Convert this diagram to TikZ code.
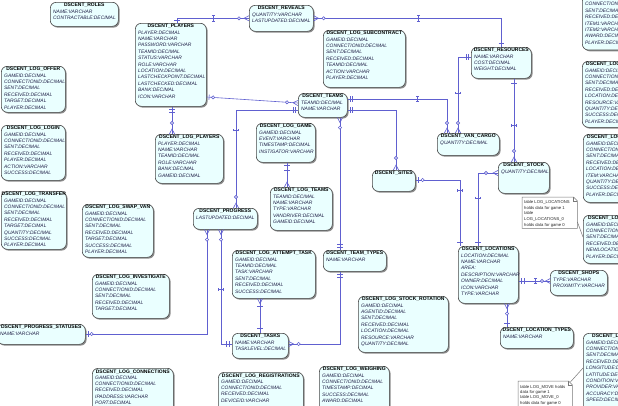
\documentclass[tikz,border=0pt]{standalone}
\usepackage{fontspec}
\setmainfont{Liberation Sans}
\usetikzlibrary{calc,shadows,decorations.markings}
\definecolor{linec}{RGB}{96,96,208}
\definecolor{boxfill}{RGB}{234,255,255}
\definecolor{boxline}{RGB}{70,70,70}
\definecolor{rowc}{RGB}{30,30,70}
\definecolor{notec}{RGB}{120,120,120}

\newcommand\mkBar{\draw[linec,line width=.6pt] (0,-2.6pt)--(0,2.6pt);}
\newcommand\mkCirc{\draw[linec,line width=.6pt,fill=white] (0,0) circle (1.6pt);}
\newcommand\mkCrowS{\draw[linec,line width=.6pt] (-5pt,2.6pt)--(0,0)--(-5pt,-2.6pt);}
\newcommand\mkCrowE{\draw[linec,line width=.6pt] (5pt,2.6pt)--(0,0)--(5pt,-2.6pt);}
\newcommand\mkI{\draw[linec,line width=.6pt] (0,-2.6pt)--(0,2.6pt) (-1.2pt,2.6pt)--(1.2pt,2.6pt) (-1.2pt,-2.6pt)--(1.2pt,-2.6pt);}

\tikzset{
 ebox/.style={draw=boxline, line width=.6pt, fill=boxfill, rounded corners=6pt, anchor=north west, inner sep=0pt,
   drop shadow={shadow xshift=1.3pt,shadow yshift=-1.3pt,fill=black!45,opacity=1}},
 ehead/.style={anchor=north, inner sep=0pt, font=\fontsize{5}{6}\selectfont\bfseries, text=black},
 rhead/.style={anchor=north west, inner sep=0pt, font=\fontsize{5}{6}\selectfont\bfseries, text=black},
 erows/.style={anchor=north west, inner sep=0pt, align=left, font=\fontsize{4.9}{6.4}\selectfont\itshape, text=rowc},
 rel/.style={draw=linec, line width=.6pt},
 mk/.style 2 args={postaction={decorate,decoration={markings,mark=at position #1 with {#2}}}},
 notebox/.style={anchor=north west, inner sep=0pt},
 notetext/.style={anchor=north west, inner sep=0pt, align=left, font=\fontsize{4.2}{#1}\selectfont, text=black!85},
 noteline/.style={draw=notec, line width=.5pt},
}

% name, x, y, w, h, header, rows
\newcommand\entbox[7]{%
  \node[ebox, minimum width=#4pt, minimum height=#5pt] (#1) at (#2,#3) {};
  \node[ehead] (#1-h) at ($(#1.north)+(0,1.3)$) {#6};
  \node[erows] (#1-r) at ($(#1.north west)+(3,7.5)$) {#7};
}
% name, x, y, w, h, header offset, header, rows
\newcommand\rentbox[8]{%
  \node[ebox, minimum width=#4pt, minimum height=#5pt] (#1) at (#2,#3) {};
  \node[rhead] (#1-h) at ($(#1.north west)+(#6,1.3)$) {#7};
  \node[erows] (#1-r) at ($(#1.north west)+(3,7.5)$) {#8};
}

\begin{document}
\begin{tikzpicture}[x=1pt,y=-1pt]
\useasboundingbox (0,0) rectangle (618,405);
\fill[white] (0,0) rectangle (618,405);
\clip (0,0) rectangle (618,405);

\entbox{roles}{50}{2}{68}{24}{DSCENT\_ROLES}{NAME:VARCHAR\\CONTRACTABLE:DECIMAL}
\entbox{players}{135}{23}{71}{83}{DSCENT\_PLAYERS}{PLAYER:DECIMAL\\NAME:VARCHAR\\PASSWORD:VARCHAR\\TEAMID:DECIMAL\\STATUS:VARCHAR\\ROLE:VARCHAR\\LOCATION:DECIMAL\\LASTCHECKPOINT:DECIMAL\\LASTCHECKED:DECIMAL\\BANK:DECIMAL\\ICON:VARCHAR}
\entbox{reveals}{249}{5}{64}{26}{DSCENT\_REVEALS}{QUANTITY:VARCHAR\\LASTUPDATED:DECIMAL}
\entbox{logsub}{323}{30}{82}{57}{DSCENT\_LOG\_SUBCONTRACT}{GAMEID:DECIMAL\\CONNECTIONID:DECIMAL\\SENT:DECIMAL\\RECEIVED:DECIMAL\\TEAMID:DECIMAL\\ACTION:VARCHAR\\PLAYER:DECIMAL}
\entbox{teams}{298}{93}{49}{24}{DSCENT\_TEAMS}{TEAMID:DECIMAL\\NAME:VARCHAR}
\entbox{resources}{471}{47}{60}{31}{DSCENT\_RESOURCES}{NAME:VARCHAR\\COST:DECIMAL\\WEIGHT:DECIMAL}
\entbox{vancargo}{437}{133}{62}{22}{DSCENT\_VAN\_CARGO}{QUANTITY:DECIMAL}
\entbox{stock}{498}{162}{51}{31}{DSCENT\_STOCK}{QUANTITY:DECIMAL}
\entbox{sites}{372}{170}{43}{21}{DSCENT\_SITES}{}
\entbox{logoffer}{1}{66}{64}{46}{DSCENT\_LOG\_OFFER}{GAMEID:DECIMAL\\CONNECTIONID:DECIMAL\\SENT:DECIMAL\\RECEIVED:DECIMAL\\TARGET:DECIMAL\\PLAYER:DECIMAL}
\entbox{loglogin}{1}{125}{64}{55}{DSCENT\_LOG\_LOGIN}{GAMEID:DECIMAL\\CONNECTIONID:DECIMAL\\SENT:DECIMAL\\RECEIVED:DECIMAL\\PLAYER:DECIMAL\\ACTION:VARCHAR\\SUCCESS:DECIMAL}
\entbox{logtransfer}{1}{191}{65}{58}{DSCENT\_LOG\_TRANSFER}{GAMEID:DECIMAL\\CONNECTIONID:DECIMAL\\SENT:DECIMAL\\RECEIVED:DECIMAL\\TARGET:DECIMAL\\QUANTITY:DECIMAL\\SUCCESS:DECIMAL\\PLAYER:DECIMAL}
\entbox{logswapvan}{82}{204}{71}{53}{DSCENT\_LOG\_SWAP\_VAN}{GAMEID:DECIMAL\\CONNECTIONID:DECIMAL\\SENT:DECIMAL\\RECEIVED:DECIMAL\\TARGET:DECIMAL\\SUCCESS:DECIMAL\\PLAYER:DECIMAL}
\entbox{loginvest}{92}{274}{77}{44}{DSCENT\_LOG\_INVESTIGATE}{GAMEID:DECIMAL\\CONNECTIONID:DECIMAL\\SENT:DECIMAL\\RECEIVED:DECIMAL\\TARGET:DECIMAL}
\entbox{statuses}{-3}{324}{88}{20}{DSCENT\_PROGRESS\_STATUSES}{NAME:VARCHAR}
\entbox{logconn}{92}{368}{81}{50}{DSCENT\_LOG\_CONNECTIONS}{GAMEID:DECIMAL\\CONNECTIONID:DECIMAL\\RECEIVED:DECIMAL\\IPADDRESS:VARCHAR\\PORT:DECIMAL}
\entbox{logplayers}{155}{134}{68}{49}{DSCENT\_LOG\_PLAYERS}{PLAYER:DECIMAL\\NAME:VARCHAR\\TEAMID:DECIMAL\\ROLE:VARCHAR\\BANK:DECIMAL\\GAMEID:DECIMAL}
\entbox{loggame}{256}{123}{59}{39}{DSCENT\_LOG\_GAME}{GAMEID:DECIMAL\\EVENT:VARCHAR\\TIMESTAMP:DECIMAL\\INSTIGATOR:VARCHAR}
\entbox{logteams}{270}{187}{62}{43}{DSCENT\_LOG\_TEAMS}{TEAMID:DECIMAL\\NAME:VARCHAR\\TYPE:VARCHAR\\VANDRIVER:DECIMAL\\GAMEID:DECIMAL}
\entbox{progress}{193}{208}{64}{21}{DSCENT\_PROGRESS}{LASTUPDATED:DECIMAL}
\entbox{logattempt}{232}{250}{83}{48}{DSCENT\_LOG\_ATTEMPT\_TASK}{GAMEID:DECIMAL\\TEAMID:DECIMAL\\TASK:VARCHAR\\SENT:DECIMAL\\RECEIVED:DECIMAL\\SUCCESS:DECIMAL}
\entbox{tasks}{232}{333}{56}{25}{DSCENT\_TASKS}{NAME:VARCHAR\\TASKLEVEL:DECIMAL}
\entbox{teamtypes}{323}{250}{63}{21}{DSCENT\_TEAM\_TYPES}{NAME:VARCHAR}
\entbox{logstockrot}{358}{296}{90}{56}{DSCENT\_LOG\_STOCK\_ROTATION}{GAMEID:DECIMAL\\AGENTID:DECIMAL\\SENT:DECIMAL\\RECEIVED:DECIMAL\\LOCATION:DECIMAL\\RESOURCE:VARCHAR\\QUANTITY:DECIMAL}
\entbox{logweigh}{319}{366}{70}{50}{DSCENT\_LOG\_WEIGHING}{GAMEID:DECIMAL\\CONNECTIONID:DECIMAL\\TIMESTAMP:DECIMAL\\SUCCESS:DECIMAL\\AWARD:DECIMAL}
\entbox{logreg}{218}{372}{85}{50}{DSCENT\_LOG\_REGISTRATIONS}{GAMEID:DECIMAL\\CONNECTIONID:DECIMAL\\RECEIVED:DECIMAL\\DEVICEID:VARCHAR}
\entbox{locations}{458}{246}{60}{57}{DSCENT\_LOCATIONS}{LOCATION:DECIMAL\\NAME:VARCHAR\\AREA:\\DESCRIPTION:VARCHAR\\OWNER:DECIMAL\\ICON:VARCHAR\\TYPE:VARCHAR}
\entbox{shops}{550}{270}{57}{25}{DSCENT\_SHOPS}{TYPE:VARCHAR\\PROXIMITY:VARCHAR}
\entbox{loctypes}{500}{327}{73}{21}{DSCENT\_LOCATION\_TYPES}{NAME:VARCHAR}

\rentbox{right1}{582}{-5.3}{60}{55}{4}{}{CONNECTIONID:DECIMAL\\SENT:DECIMAL\\RECEIVED:DECIMAL\\ITEM1:VARCHAR\\ITEM2:VARCHAR\\AWARD:DECIMAL\\PLAYER:DECIMAL}
\rentbox{right2}{582}{61}{60}{66}{4}{DSCENT\_LOG\_}{GAMEID:DECIMAL\\CONNECTIONID:DECIMAL\\SENT:DECIMAL\\RECEIVED:DECIMAL\\LOCATION:DECIMAL\\RESOURCE:VARCHAR\\QUANTITY:DECIMAL\\SUCCESS:DECIMAL\\PLAYER:DECIMAL}
\rentbox{right3}{583}{134}{60}{68}{4}{DSCENT\_LOG\_}{GAMEID:DECIMAL\\CONNECTIONID:DECIMAL\\SENT:DECIMAL\\RECEIVED:DECIMAL\\LOCATION:DECIMAL\\ITEM:VARCHAR\\QUANTITY:DECIMAL\\SUCCESS:DECIMAL\\PLAYER:DECIMAL}
\rentbox{right4}{583}{215}{60}{48}{5}{DSCENT\_LOG\_}{GAMEID:DECIMAL\\CONNECTIONID:DECIMAL\\SENT:DECIMAL\\RECEIVED:DECIMAL\\NEWLOCATION:DECIMAL\\PLAYER:DECIMAL}
\rentbox{right5}{583}{333}{60}{90}{9}{DSCENT\_LOG\_}{GAMEID:DECIMAL\\CONNECTIONID:DECIMAL\\SENT:DECIMAL\\RECEIVED:DECIMAL\\LONGITUDE:DECIMAL\\LATITUDE:DECIMAL\\CONDITION:VARCHAR\\PROVIDER:VARCHAR\\ACCURACY:DECIMAL\\SPEED:DECIMAL}

% notes
\node[notebox, minimum width=55pt, minimum height=31pt] (note1) at (522,197) {};
\draw[draw=notec, line width=.5pt, fill=white] (note1.north west) -- ($(note1.north east)+(-4,0)$) -- ($(note1.north east)+(0,4)$) -- (note1.south east) -- (note1.south west) -- cycle;
\draw[draw=notec, line width=.5pt] ($(note1.north east)+(-4,0)$) -- ($(note1.north east)+(-4,4)$) -- ($(note1.north east)+(0,4)$);
\node[notetext=5.8] (note1-t) at ($(note1.north west)+(2,3)$) {table LOG\_LOCATIONS\\holds data for game 1\\table\\LOG\_LOCATIONS\_0\\holds data for game 0};
\draw[noteline] (note1.east |- 0,222) -- (right4.west |- 0,237);

\node[notebox, minimum width=54pt, minimum height=30pt] (note2) at (518,381) {};
\draw[draw=notec, line width=.5pt, fill=white] (note2.north west) -- ($(note2.north east)+(-4,0)$) -- ($(note2.north east)+(0,4)$) -- (note2.south east) -- (note2.south west) -- cycle;
\draw[draw=notec, line width=.5pt] ($(note2.north east)+(-4,0)$) -- ($(note2.north east)+(-4,4)$) -- ($(note2.north east)+(0,4)$);
\node[notetext=5.1] (note2-t) at ($(note2.north west)+(2,4.5)$) {table LOG\_MOVE holds\\data for game 1\\table LOG\_MOVE\_0\\holds data for game 0};
\draw[noteline] ($(note2.north east)+(-2,1)$) -- (right5.west |- 0,368);

% relationships
\draw[rel, mk={2.5pt}{\mkBar}, mk={41pt}{\mkI}, mk={-10pt}{\mkCirc}, mk={-5pt}{\mkCrowE}] (players.north -| 177,0) |- (reveals.west);
\draw[rel, mk={2.5pt}{\mkBar}, mk={6.5pt}{\mkCirc}, mk={-11pt}{\mkCirc}, mk={-5pt}{\mkCrowE}] (players.east |- 0,97) -- (teams.west |- 0,103);
\draw[rel, mk={2.5pt}{\mkBar}, mk={6pt}{\mkBar}, mk={-11pt}{\mkCirc}, mk={-5pt}{\mkCrowE}] (players.south -| 172,0) -- (logplayers.north -| 172,0);
\draw[rel, mk={5pt}{\mkCrowS}, mk={10pt}{\mkCirc}, mk={105pt}{\mkI}, mk={-4pt}{\mkBar}] (reveals.east) -| (resources.north);
\draw[rel, mk={2.5pt}{\mkBar}, mk={5pt}{\mkBar}, mk={70pt}{\mkI}, mk={-10pt}{\mkCirc}, mk={-5pt}{\mkCrowE}] (teams.east |- 0,99) -| (vancargo.north -| 447,0);
\draw[rel, mk={2.5pt}{\mkBar}, mk={5pt}{\mkBar}, mk={-12pt}{\mkCirc}, mk={-5pt}{\mkCrowE}] (teams.east |- 0,110) -| (sites.north -| 396,0);
\draw[rel, mk={5pt}{\mkCrowS}, mk={10pt}{\mkCirc}, mk={-3pt}{\mkBar}, mk={-5.5pt}{\mkBar}] (teams.south -| 340,0) -- (teamtypes.north -| 340,0);
\draw[rel, mk={5pt}{\mkCrowS}, mk={10pt}{\mkCirc}, mk={-3pt}{\mkBar}, mk={-6pt}{\mkBar}] (tasks.east |- 0,344) -| (teamtypes.south -| 340,0);
\draw[rel, mk={5pt}{\mkCrowS}, mk={11pt}{\mkCirc}, mk={78pt}{\mkI}, mk={-2.5pt}{\mkBar}, mk={-5pt}{\mkBar}] (progress.north -| 236,0) |- (teams.west |- 0,110);
\draw[rel, mk={5pt}{\mkCrowS}, mk={10pt}{\mkCirc}, mk={-6pt}{\mkCirc}, mk={-2.5pt}{\mkBar}] (progress.south -| 207,0) |- (statuses.east |- 0,334);
\draw[rel, mk={5pt}{\mkCrowS}, mk={10pt}{\mkCirc}, mk={60pt}{\mkI}, mk={-3pt}{\mkBar}, mk={-6pt}{\mkBar}] (progress.south -| 221,0) |- (tasks.west |- 0,344);
\draw[rel, mk={3pt}{\mkBar}, mk={8pt}{\mkBar}, mk={-5pt}{\mkCrowE}] (loggame.south -| 287,0) -- (logteams.north -| 287,0);
\draw[rel, mk={5pt}{\mkCrowS}, mk={8pt}{\mkBar}, mk={-5pt}{\mkBar}] (logattempt.south -| 260,0) -- (tasks.north -| 260,0);
\draw[rel, mk={2.5pt}{\mkBar}, mk={5pt}{\mkBar}, mk={49pt}{\mkI}, mk={-10pt}{\mkCirc}, mk={-5pt}{\mkCrowE}] (resources.west |- 0,57) -| (vancargo.north -| 458,0);
\draw[rel, mk={5pt}{\mkBar}, mk={47pt}{\mkI}, mk={-11pt}{\mkCirc}, mk={-5pt}{\mkCrowE}] (resources.south -| 514,0) -- (stock.north -| 514,0);
\draw[rel, mk={5pt}{\mkCrowS}, mk={12pt}{\mkCirc}, mk={45pt}{\mkI}, mk={-4pt}{\mkBar}] (stock.west |- 0,173) -| (locations.north -| 478,0);
\draw[rel, mk={3pt}{\mkBar}, mk={7pt}{\mkCirc}, mk={55pt}{\mkI}, mk={-4pt}{\mkBar}] (sites.east |- 0,180) -| (locations.north -| 460,0);
\draw[rel, mk={3pt}{\mkBar}, mk={6pt}{\mkBar}, mk={17pt}{\mkI}, mk={-8pt}{\mkCirc}, mk={-4.5pt}{\mkCrowE}] (locations.east |- 0,281) -- (shops.west |- 0,281);
\draw[rel, mk={5pt}{\mkCrowS}, mk={10pt}{\mkCirc}, mk={-4pt}{\mkBar}] (locations.south -| 507,0) -- (loctypes.north -| 507,0);
\end{tikzpicture}
\end{document}
